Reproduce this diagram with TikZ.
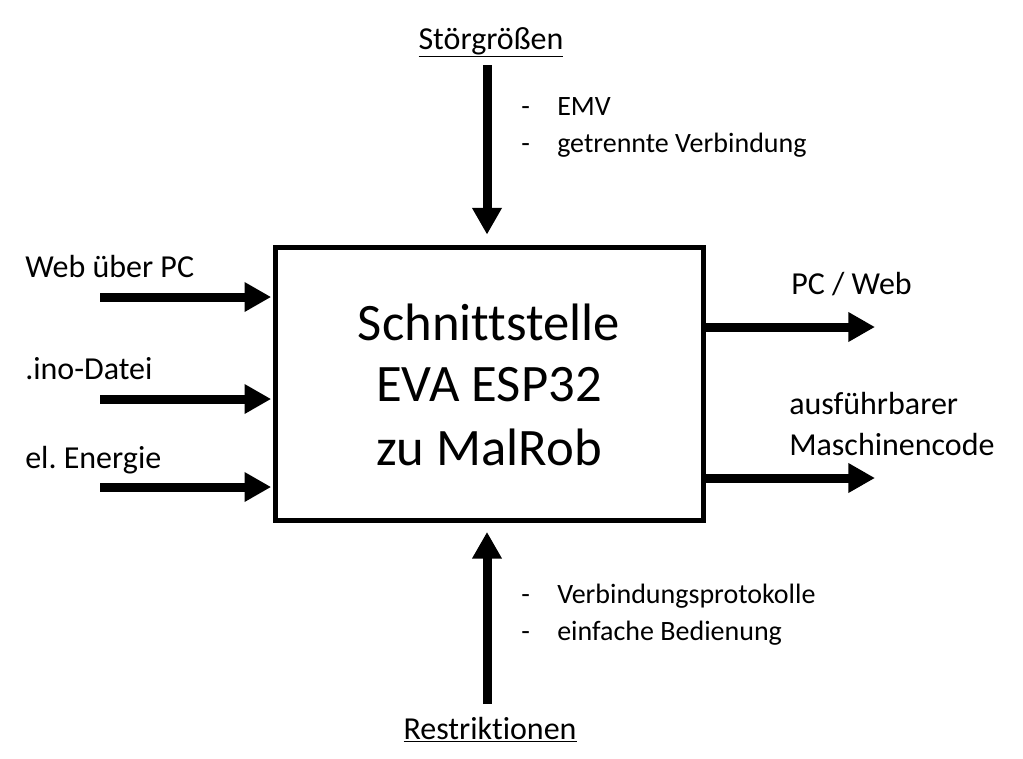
\documentclass[tikz,border=0pt]{standalone}
\usepackage{fontspec}
\setmainfont[Ligatures={NoCommon}]{Carlito}
\usetikzlibrary{arrows.meta}
\frenchspacing
\begin{document}
\begin{tikzpicture}[x=0.75pt,y=-0.75pt,
  lbl/.style={anchor=base west,inner sep=0pt,font=\fontsize{24}{29}\selectfont},
  blt/.style={anchor=base west,inner sep=0pt,font=\fontsize{21}{26}\selectfont},
  ttl/.style={anchor=base,inner sep=0pt,font=\fontsize{24}{29}\selectfont},
  big/.style={anchor=base,inner sep=0pt,font=\fontsize{39.5}{46.5}\selectfont},
  bigarrow/.style={line width=6.75pt,-{Triangle[length=20pt,width=21pt]}},
  mainbox/.style={draw,line width=3.75pt,minimum width=428*0.75pt,minimum height=273*0.75pt,inner sep=0pt}
]
\useasboundingbox (0,0) rectangle (1023,758);
% main box
\node[mainbox] (box) at (489,384.25) {};
\node[big] (t1) at (489,340) {Schnittstelle};
\node[big] (t2) at (489,401) {EVA ESP32};
\node[big] (t3) at (489,465) {zu MalRob};
% top
\node[ttl] (stoer) at (491,49) {\underline{Störgrößen}};
\coordinate (topstart) at (487,65);
\draw[bigarrow,shorten >=8pt] (topstart) -- (topstart |- box.north);
\node[blt] (emv) at (521,115) {\makebox[27pt][l]{-}EMV};
\node[blt] (getr) at (521,152) {\makebox[27pt][l]{-}getrennte Verbindung};
% bottom
\node[ttl] (restr) at (490,739) {\underline{Restriktionen}};
\coordinate (botstart) at (487,704);
\draw[bigarrow,shorten >=6.5pt] (botstart) -- (botstart |- box.south);
\node[blt] (verb) at (521,603) {\makebox[27pt][l]{-}Verbindungsprotokolle};
\node[blt] (einf) at (521,640) {\makebox[27pt][l]{-}einfache Bedienung};
% left
\node[lbl] (web) at (25,277) {Web über PC};
\node[lbl] (ino) at (25,379) {.ino-Datei};
\node[lbl] (ener) at (25,468) {el. Energie};
\coordinate (in1) at (100,297);
\coordinate (in2) at (100,399);
\coordinate (in3) at (100,487);
\draw[bigarrow,shorten >=1pt] (in1) -- (in1 -| box.west);
\draw[bigarrow,shorten >=1pt] (in2) -- (in2 -| box.west);
\draw[bigarrow,shorten >=1pt] (in3) -- (in3 -| box.west);
% right
\node[lbl] (pcweb) at (791,294) {PC / Web};
\node[lbl] (ausf) at (789,414) {ausführbarer};
\node[lbl] (masch) at (789,455) {Maschinencode};
\coordinate (out1) at (875,327);
\coordinate (out2) at (875,478);
\draw[bigarrow] (out1 -| box.east) -- (out1);
\draw[bigarrow] (out2 -| box.east) -- (out2);
\end{tikzpicture}
\end{document}
